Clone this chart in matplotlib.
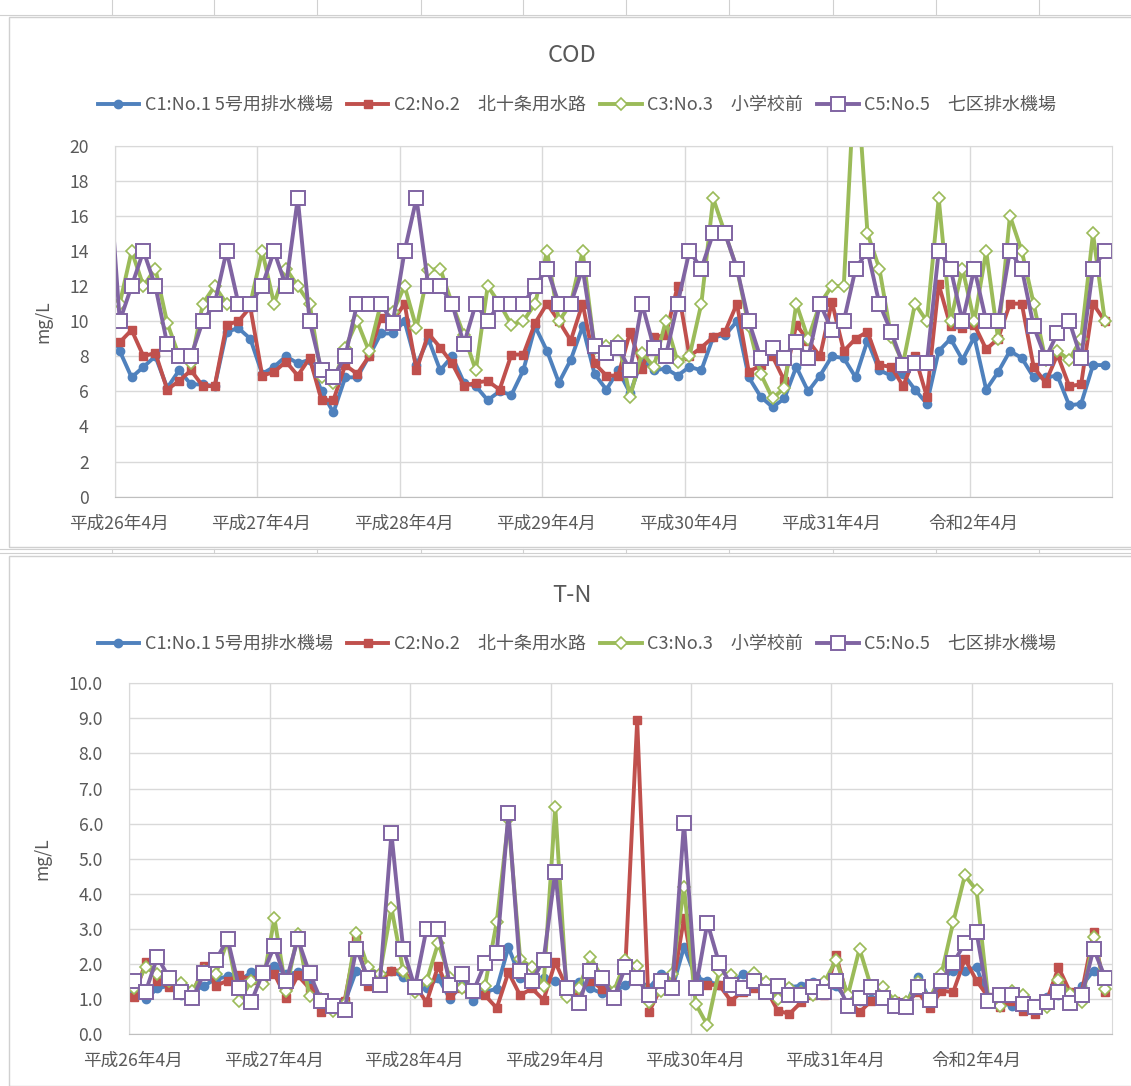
import numpy as np
import matplotlib
matplotlib.use('Agg')
import matplotlib.pyplot as plt
from matplotlib.lines import Line2D
from matplotlib.patches import Rectangle
from matplotlib.transforms import ScaledTranslation

plt.rcParams['font.family'] = ['Noto Sans CJK JP', 'DejaVu Sans']

# ---- データ（平成26年4月～令和3年3月, 月1回）----
xlabels = ['平成26年4月', '平成27年4月', '平成28年4月', '平成29年4月',
           '平成30年4月', '平成31年4月', '令和2年4月']
names = ['C1:No.1 5号用排水機場', 'C2:No.2　北十条用水路',
         'C3:No.3　小学校前', 'C5:No.5　七区排水機場']

# 表示範囲の直前（平成26年3月）の値
cod_prev = [9.8, 9.2, 11.5, 19.5]
tn_prev = [1.3, 1.0, 1.5, 1.9]

cod_c1 = [8.3, 6.8, 7.4, 8.0, 6.2, 7.2, 6.4, 6.4, 6.3, 9.4, 9.6, 9.0,
          7.0, 7.4, 8.0, 7.6, 7.8, 6.0, 4.8, 6.8, 6.8, 8.0, 9.3, 9.3,
          10.0, 7.5, 9.0, 7.2, 8.0, 6.5, 6.3, 5.5, 6.0, 5.8, 7.2, 9.7,
          8.3, 6.5, 7.8, 9.7, 7.0, 6.1, 7.2, 5.9, 7.8, 7.2, 7.3, 6.9,
          7.4, 7.2, 9.1, 9.2, 10.0, 6.8, 5.7, 5.1, 5.6, 7.4, 6.0, 6.9,
          8.0, 7.9, 6.8, 8.9, 7.2, 6.9, 7.0, 6.1, 5.3, 8.3, 9.0, 7.8,
          9.1, 6.1, 7.1, 8.3, 7.9, 6.8, 6.8, 6.9, 5.2, 5.3, 7.5, 7.5]
cod_c2 = [8.8, 9.5, 8.0, 8.2, 6.1, 6.6, 7.2, 6.3, 6.3, 9.8, 10.0, 10.8,
          6.9, 7.1, 7.7, 6.9, 7.9, 5.5, 5.5, 7.5, 7.0, 8.0, 10.2, 10.0,
          11.0, 7.2, 9.3, 8.5, 7.6, 6.3, 6.5, 6.6, 6.1, 8.1, 8.1, 9.9,
          11.0, 10.0, 8.9, 11.0, 7.6, 6.9, 6.9, 9.4, 7.3, 9.1, 9.2, 12.0,
          8.0, 8.5, 9.1, 9.4, 11.0, 7.1, 7.5, 8.0, 6.6, 9.8, 8.9, 8.0,
          11.1, 8.3, 9.0, 9.4, 7.5, 7.4, 6.3, 8.0, 5.7, 12.1, 9.7, 9.6,
          9.8, 8.4, 9.0, 11.0, 11.0, 7.4, 6.5, 8.1, 6.3, 6.4, 11.0, 10.0]
cod_c3 = [11.0, 14.0, 12.0, 13.0, 9.9, 8.0, 7.6, 11.0, 12.0, 11.0, 11.0, 11.0,
          14.0, 11.0, 13.0, 12.0, 11.0, 6.8, 6.5, 8.5, 10.0, 8.3, 11.0, 10.5,
          12.0, 9.6, 12.9, 13.0, 11.0, 9.2, 7.2, 12.0, 11.0, 9.8, 10.0, 11.0,
          14.0, 10.0, 11.0, 14.0, 8.5, 8.6, 8.9, 5.7, 8.2, 7.4, 10.0, 7.7,
          8.0, 11.0, 17.0, 15.0, 13.0, 9.7, 7.0, 5.6, 6.2, 11.0, 9.0, 11.0,
          12.0, 12.0, 25.0, 15.0, 13.0, 9.1, 7.6, 11.0, 10.0, 17.0, 10.0, 13.0,
          10.0, 14.0, 9.0, 16.0, 14.0, 11.0, 7.8, 8.3, 7.8, 9.0, 15.0, 10.0]
cod_c5 = [10, 12, 14, 12, 8.7, 8, 8, 10, 11, 14, 11, 11,
          12, 14, 12, 17, 10, 7.2, 6.8, 8, 11, 11, 11, 9.9,
          14, 17, 12, 12, 11, 8.7, 11, 10, 11, 11, 11, 12,
          13, 11, 11, 13, 8.6, 8.2, 8.5, 7.2, 11, 8.5, 8.0, 11,
          14, 13, 15, 15, 13, 10, 7.9, 8.5, 7.9, 8.8, 7.9, 11,
          9.5, 10, 13, 14, 11, 9.4, 7.5, 7.6, 7.6, 14, 13, 10,
          13, 10, 10, 14, 13, 9.7, 7.9, 9.3, 10, 7.9, 13, 14]

tn_c1 = [1.19, 1.0, 1.3, 1.38, 1.12, 1.2, 1.38, 1.57, 1.64, 1.5, 1.76, 1.7,
         1.95, 1.7, 1.76, 1.5, 1.0, 0.8, 0.9, 1.81, 1.6, 1.6, 1.81, 1.62,
         1.4, 1.3, 1.6, 1.0, 1.4, 0.95, 1.2, 1.29, 2.48, 1.6, 1.4, 1.6,
         1.5, 1.4, 1.48, 1.3, 1.16, 1.2, 1.4, 1.6, 1.3, 1.71, 1.3, 2.48,
         1.62, 1.5, 1.4, 1.4, 1.71, 1.5, 1.3, 1.33, 1.33, 1.38, 1.48, 1.2,
         1.38, 0.95, 0.95, 1.0, 1.0, 0.9, 0.85, 1.62, 1.0, 1.57, 1.8, 1.81,
         1.9, 1.0, 0.9, 0.81, 0.86, 0.8, 1.05, 1.1, 1.0, 1.38, 1.81, 1.5]
tn_c2 = [1.05, 2.05, 1.52, 1.33, 1.25, 1.15, 1.95, 1.38, 1.52, 1.67, 1.55, 1.6,
         1.71, 1.03, 1.67, 1.3, 0.62, 0.8, 0.95, 2.7, 1.38, 1.5, 1.81, 1.81,
         1.4, 0.9, 1.95, 1.1, 1.3, 1.2, 1.1, 0.74, 1.76, 1.1, 1.3, 0.97,
         2.05, 1.3, 1.2, 1.52, 1.29, 1.2, 2.0, 8.94, 0.62, 1.3, 1.3, 3.3,
         1.38, 1.4, 1.4, 0.95, 1.2, 1.3, 1.3, 0.67, 0.57, 0.9, 1.1, 1.1,
         2.24, 1.0, 0.62, 0.95, 1.1, 0.95, 0.9, 1.2, 0.74, 1.24, 1.19, 2.14,
         1.52, 1.05, 0.76, 0.95, 0.67, 0.57, 0.95, 1.9, 1.19, 1.2, 2.9, 1.19]
tn_c3 = [1.3, 1.9, 1.7, 1.5, 1.45, 1.24, 1.8, 1.71, 2.67, 0.95, 1.5, 1.43,
         3.3, 1.24, 2.86, 1.07, 1.0, 0.67, 0.86, 2.88, 1.9, 1.7, 3.6, 1.81,
         1.19, 1.5, 2.6, 1.6, 1.3, 1.2, 1.38, 3.2, 6.12, 2.14, 1.9, 1.38,
         6.48, 1.05, 1.3, 2.2, 1.6, 1.2, 2.1, 1.95, 0.9, 1.24, 1.71, 4.2,
         0.86, 0.25, 1.8, 1.67, 1.35, 1.73, 1.48, 1.0, 1.3, 1.2, 1.1, 1.48,
         2.11, 1.1, 2.43, 1.33, 1.33, 0.95, 0.9, 1.48, 1.0, 1.71, 3.18, 4.52,
         4.1, 1.0, 0.81, 1.24, 1.1, 0.81, 0.76, 1.54, 1.14, 0.9, 2.76, 1.29]
tn_c5 = [1.5, 1.21, 2.2, 1.6, 1.21, 1.02, 1.73, 2.11, 2.71, 1.3, 0.9, 1.73,
         2.5, 1.5, 2.71, 1.73, 0.95, 0.81, 0.69, 2.43, 1.6, 1.4, 5.72, 2.43,
         1.33, 3.0, 3.0, 1.4, 1.71, 1.22, 2.02, 2.31, 6.31, 1.8, 1.5, 2.11,
         4.63, 1.3, 0.88, 1.8, 1.6, 1.02, 1.92, 1.6, 1.1, 1.5, 1.3, 6.03,
         1.3, 3.17, 2.02, 1.4, 1.3, 1.5, 1.21, 1.38, 1.1, 1.1, 1.33, 1.21,
         1.52, 0.81, 1.03, 1.33, 1.03, 0.81, 0.76, 1.33, 0.98, 1.52, 2.02, 2.59,
         2.9, 0.95, 1.1, 1.1, 0.86, 0.78, 0.9, 1.21, 0.88, 1.1, 2.43, 1.6]

# ---- スタイル ----
GRAY = '#595959'
GRID = '#d9d9d9'
styles = [
    dict(color='#4F81BD', marker='o', ms=6, mfc='#4F81BD', mec='#4F81BD'),
    dict(color='#C0504D', marker='s', ms=6, mfc='#C0504D', mec='#C0504D'),
    dict(color='#9BBB59', marker='D', ms=6.2, mfc='white', mec='#9BBB59', mew=1.2),
    dict(color='#8064A2', marker='s', ms=9.5, mfc='white', mec='#8064A2', mew=1.4),
]

W, H = 1131, 1086
fig = plt.figure(figsize=(W / 100, H / 100), dpi=100)


def fx(px):
    return px / W


def fy(py):
    return 1 - py / H


# シートの枠線・グラフエリア枠
sheet_cols = [112, 214, 317, 421, 523, 626, 729, 833, 936, 1039]
for y0, y1 in [(0, 15), (549, 553)]:
    for c in sheet_cols:
        fig.add_artist(Line2D([fx(c), fx(c)], [fy(y0), fy(y1)], color='#d0d0d0', lw=0.8))
for yy in [15, 549, 553]:
    fig.add_artist(Line2D([0, 1], [fy(yy), fy(yy)], color='#d0d0d0', lw=0.8))
for top, bot in [(17, 547), (556, 1086)]:
    fig.add_artist(Rectangle((fx(9), fy(bot)), 1.2, fy(top) - fy(bot),
                             transform=fig.transFigure, fill=False, ec='#d0d0d0', lw=1))


def panel(rect, series, prev, ymax, ystep, yfmt, title, title_y, legend_y, ylab_x):
    ax = fig.add_axes(rect)
    x = np.arange(84) + 0.4
    xx = np.concatenate([[-0.6], x])
    for vals, p, st in zip(series, prev, styles):
        ax.plot(xx, np.concatenate([[p], vals]), lw=2.8, **st)
    ax.set_xlim(0, 84)
    ax.set_ylim(0, ymax)
    yt = np.arange(0, ymax + ystep / 2, ystep)
    ax.set_yticks(yt)
    ax.set_yticklabels([yfmt.format(v) for v in yt])
    ax.set_xticks(np.arange(0, 84, 12))
    ax.set_xticklabels(xlabels)
    ax.grid(True, color=GRID, lw=1)
    ax.set_axisbelow(True)
    for s in ax.spines.values():
        s.set_color(GRID)
    ax.spines['bottom'].set_color('#bfbfbf')
    ax.tick_params(length=0, labelsize=12.7, colors=GRAY)
    ax.tick_params(axis='y', pad=19)
    ax.tick_params(axis='x', pad=13)
    for lbl in ax.get_xticklabels():
        lbl.set_transform(lbl.get_transform() + ScaledTranslation(4 / 100, 0, fig.dpi_scale_trans))
    ax.set_ylabel('mg/L', fontsize=12.7, color=GRAY)
    ax.yaxis.set_label_coords(ylab_x, 0.5)

    fig.text(fx(572), fy(title_y), title, ha='center', va='center', fontsize=17, color=GRAY)
    handles = [Line2D([], [], lw=2.8, **st) for st in styles]
    fig.legend(handles, names, loc='center', bbox_to_anchor=(fx(577), fy(legend_y)),
               ncol=4, frameon=False, fontsize=13, handlelength=2.3,
               handletextpad=0.3, columnspacing=0.8, labelcolor=GRAY)
    return ax


panel([fx(115), fy(496.7), (1112 - 115) / W, (496.7 - 145.7) / H],
      [cod_c1, cod_c2, cod_c3, cod_c5], cod_prev, 20, 2, '{:.0f}',
      'COD', 55, 105, -0.063)
panel([fx(129.3), fy(1034), (1112.3 - 129.3) / W, (1034 - 683.3) / H],
      [tn_c1, tn_c2, tn_c3, tn_c5], tn_prev, 10, 1, '{:.1f}',
      'T-N', 595, 644, -0.079)

fig.savefig('out.png', dpi=100, facecolor='white')
